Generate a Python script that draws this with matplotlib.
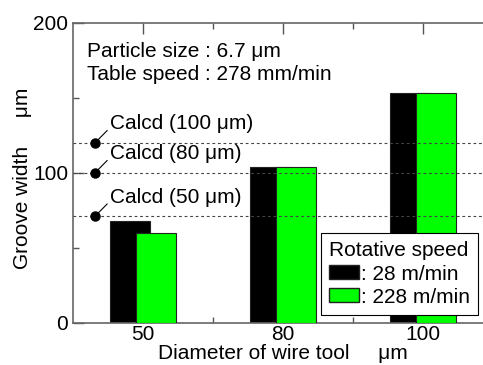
import numpy as np
import matplotlib
matplotlib.use("Agg")
import matplotlib.pyplot as plt
from matplotlib.patches import Patch

plt.rcParams['font.family'] = ['Liberation Sans', 'DejaVu Sans']
plt.rcParams['font.size'] = 15

# data
diameters = ['50', '80', '100']
width_28 = [68, 104, 153]
width_228 = [60, 104, 153]
calcd_values = [71, 100, 120]
calcd_labels = ['Calcd (50 μm)', 'Calcd (80 μm)', 'Calcd (100 μm)']

fig = plt.figure(figsize=(4.83, 3.65), dpi=100)
ax = fig.add_axes([73/483, 42.3/365, 420/483, 299.7/365])

x = np.arange(len(diameters))
bw = 0.286
off = 0.093
ax.bar(x - off, width_28, bw, color='black', edgecolor='#222222', linewidth=0.8, zorder=2)
ax.bar(x + off, width_228, bw, color='#00ff00', edgecolor='#222222', linewidth=0.8, zorder=3)

# calculated widths
for val, lab in zip(calcd_values, calcd_labels):
    ax.axhline(val, color='#444444', linestyle=(0, (2.5, 2.5)), linewidth=0.8, zorder=4)
    ax.plot(-0.343, val, 'o', color='black', markersize=6.5, zorder=5, clip_on=False)
    ax.annotate(lab, xy=(-0.343, val), xytext=(15, 19), textcoords='offset pixels',
                ha='left', va='center', fontsize=15,
                arrowprops=dict(arrowstyle='-', color='black', lw=0.8,
                                shrinkA=0, shrinkB=0, relpos=(0, 0.3)))

ax.text(0.034, 0.905, 'Particle size : 6.7 μm', transform=ax.transAxes, fontsize=15, va='center')
ax.text(0.034, 0.828, 'Table speed : 278 mm/min', transform=ax.transAxes, fontsize=15, va='center')

ax.set_xlim(-0.5, 2.5)
ax.set_ylim(0, 200)
ax.set_xticks(x)
ax.set_xticklabels(diameters)
ax.set_xticks([0.5, 1.5], minor=True)
ax.set_yticks([0, 100, 200])
ax.set_yticks([50, 150], minor=True)

for s in ['left', 'bottom', 'top']:
    ax.spines[s].set_color('#666666')
    ax.spines[s].set_linewidth(1.2)
ax.spines['right'].set_visible(False)

ax.tick_params(which='major', direction='in', length=8, width=1, color='#555555',
               top=True, labelsize=15, pad=3.5)
ax.tick_params(which='major', axis='x', pad=2)
ax.tick_params(which='minor', direction='in', length=4, width=1, color='#555555', top=True)

ax.set_xlabel('Diameter of wire tool     μm', fontsize=15)
ax.set_ylabel('Groove width     μm', fontsize=15)
ax.xaxis.set_label_coords(0.5, -0.072)
ax.yaxis.set_label_coords(-0.097, 0.483)

handles = [Patch(facecolor='black', edgecolor='#222222'),
           Patch(facecolor='#00ff00', edgecolor='#222222')]
leg = ax.legend(handles, [': 28 m/min', ': 228 m/min'], title='Rotative speed',
                loc='lower left', bbox_to_anchor=(321/483, 50/365),
                bbox_transform=fig.transFigure, borderaxespad=0,
                fancybox=False, framealpha=1, edgecolor='black',
                handlelength=1.4, handleheight=0.67, handletextpad=0.1,
                labelspacing=0.2, borderpad=0.4, fontsize=15, title_fontsize=15,
                alignment='left')
leg.get_frame().set_linewidth(0.8)
leg.set_zorder(6)

fig.savefig('out.png', dpi=100)
